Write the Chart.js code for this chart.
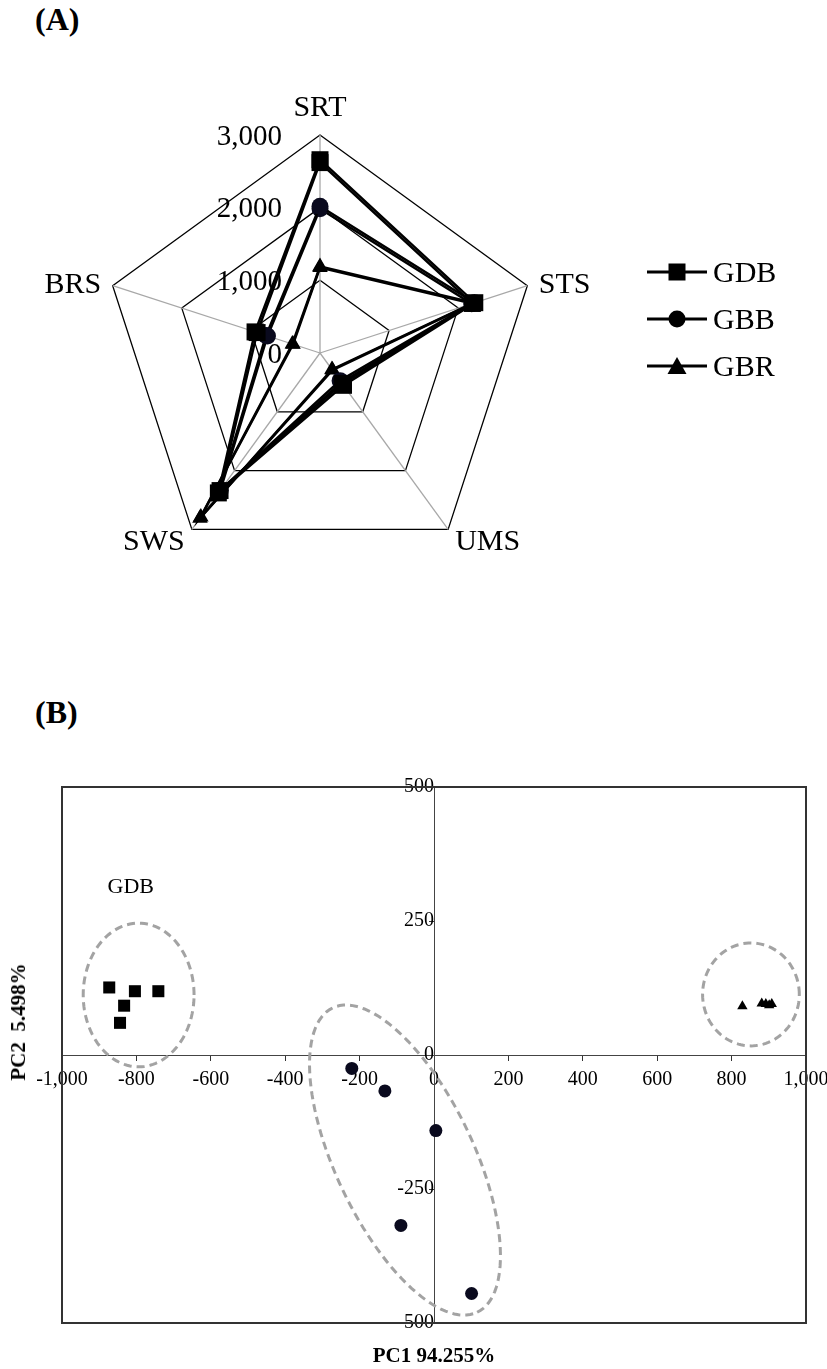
<!DOCTYPE html>
<html>
<head>
<meta charset="utf-8">
<script src="https://cdn.jsdelivr.net/npm/chart.js@4.4.1/dist/chart.umd.min.js"></script>
<style>
    body { margin: 0; background: #fff; font-family: "Liberation Serif", "Times New Roman", serif; }
    #page { position: relative; width: 827px; height: 1369px; overflow: hidden; }
    canvas { position: absolute; left: 0; }
    .panel { position: absolute; left: 35px; font-weight: bold; font-size: 32px; line-height: 36px; }
    #legend { position: absolute; left: 647px; top: 248px; font-size: 30px; }
    .item { display: flex; align-items: center; height: 47px; }
    .item svg { margin-right: 6px; }
    .axt { position: absolute; font-weight: bold; font-size: 21px; white-space: pre; line-height: 24px; }
</style>
</head>
<body>
<div id="page">
    <div class="panel" style="top:1px">(A)</div>
    <canvas id="radar" width="827" height="640" style="top:0"></canvas>
    <div id="legend"></div>
    <div class="panel" style="top:694px">(B)</div>
    <canvas id="pca" width="860" height="609" style="top:760px"></canvas>
    <div class="axt" style="left:434px;top:1343px;transform:translateX(-50%)">PC1 94.255%</div>
    <div class="axt" style="left:18px;top:1022px;transform:translate(-50%,-50%) rotate(-90deg)">PC2  5.498%</div>
</div>
<script>
const serif = '"Liberation Serif", "Times New Roman", serif';

// (A) radar: axes and replicate profiles per group
const axes = ['SRT', 'STS', 'UMS', 'SWS', 'BRS'];
const radarTicks = [0, 1000, 2000, 3000];
const gdbRep1 = [2660, 2240, 550, 2380, 940];
const gdbRep2 = [2620, 2205, 520, 2340, 910];
const gbbRep1 = [2020, 2235, 500, 2370, 780];
const gbbRep2 = [1985, 2195, 470, 2335, 760];
const gbrRep1 = [1190, 2230, 290, 2810, 400];
const gbrRep2 = [1175, 2205, 280, 2790, 390];

// (B) PCA scores
const groupNames = ['GDB', 'GBB', 'GBR'];
const gdbPC1 = [-873, -804, -741, -833, -844];
const gdbPC2 = [126, 119, 119, 92, 60];
const gbbPC1 = [-221, -132, 5, -89, 101];
const gbbPC2 = [-25, -67, -141, -318, -445];
const gbrPC1 = [829, 881, 892, 901, 908];
const gbrPC2 = [91, 96, 95, 93, 95];
const pc1Ticks = [-1000, -800, -600, -400, -200, 0, 200, 400, 600, 800, 1000];
const pc2Ticks = [-500, -250, 0, 250, 500];

// dashed cluster outlines (centre + two semi-axis vectors, in score units)
const clusterRings = [
    { c: [-794, 112], a: [149, 0], b: [0, 134] },
    { c: [-78, -196], a: [194, -284], b: [168, 55] },
    { c: [852, 113], a: [130, 0], b: [0, 96] }
];
const clusterNote = { text: 'GDB', x: -815, y: 313 };

const styles = {
    GDB: { shape: 'rect', rR: 12, sR: 8.5, color: '#000' },
    GBB: { shape: 'circle', rR: 8.5, sR: 6.5, color: '#0a0a1e' },
    GBR: { shape: 'triangle', rR: 9, sR: 6, color: '#000' }
};

const radarReps = [
    ['GDB', gdbRep1], ['GDB', gdbRep2],
    ['GBB', gbbRep1], ['GBB', gbbRep2],
    ['GBR', gbrRep1], ['GBR', gbrRep2]
];

const radarText = {
    id: 'radarText',
    beforeDatasetsDraw(chart) {
        const s = chart.scales.r, ctx = chart.ctx;
        ctx.save();
        ctx.fillStyle = '#000';
        ctx.font = '29px ' + serif;
        ctx.textAlign = 'right';
        ctx.textBaseline = 'middle';
        s.ticks.forEach(t => {
            const d = s.getDistanceFromCenterForValue(t.value);
            ctx.fillText(t.value.toLocaleString('en-US'), s.xCenter - 38, s.yCenter - d + 2);
        });
        ctx.font = '30px ' + serif;
        chart.data.labels.forEach((lab, i) => {
            const top = i === 0;
            const p = s.getPointPosition(i, s.drawingArea + (top ? 27 : 12));
            ctx.textAlign = top ? 'center' : (p.x > s.xCenter ? 'left' : 'right');
            ctx.fillText(lab, p.x, p.y + (top ? 0 : 3));
        });
        ctx.restore();
    }
};

new Chart(document.getElementById('radar'), {
    type: 'radar',
    data: {
        labels: axes,
        datasets: radarReps.map(([g, vals]) => ({
            label: g,
            data: vals,
            borderColor: '#000',
            borderWidth: 2.5,
            backgroundColor: 'transparent',
            fill: false,
            pointStyle: styles[g].shape,
            pointRadius: styles[g].rR,
            pointBackgroundColor: styles[g].color,
            pointBorderColor: styles[g].color,
            pointBorderWidth: 0
        }))
    },
    options: {
        responsive: false,
        animation: false,
        layout: { autoPadding: false, padding: { left: 102, right: 289, top: 135, bottom: 69 } },
        plugins: { legend: { display: false }, tooltip: { enabled: false } },
        scales: {
            r: {
                min: radarTicks[0],
                max: radarTicks[radarTicks.length - 1],
                ticks: { stepSize: radarTicks[1] - radarTicks[0], display: false },
                grid: { color: '#000', lineWidth: 1.3 },
                angleLines: { color: '#a8a8a8', lineWidth: 1.3 },
                pointLabels: { display: false }
            }
        }
    },
    plugins: [radarText]
});

// legend for (A)
const markerSvg = {
    rect: '<rect x="21.5" y="3.5" width="17" height="17" fill="#000"/>',
    circle: '<circle cx="30" cy="12" r="8.5" fill="#000"/>',
    triangle: '<polygon points="30,3 39.5,20 20.5,20" fill="#000"/>'
};
document.getElementById('legend').innerHTML = groupNames.map(g =>
    '<div class="item"><svg width="60" height="24"><line x1="0" y1="12" x2="60" y2="12" stroke="#000" stroke-width="3"/>' +
    markerSvg[styles[g].shape] + '</svg><span>' + g + '</span></div>'
).join('');

// (B) scatter
const pcaDecor = {
    id: 'pcaDecor',
    beforeDatasetsDraw(chart) {
        const { ctx, chartArea: ca } = chart;
        const sx = chart.scales.x, sy = chart.scales.y;
        ctx.save();
        ctx.strokeStyle = '#333';
        ctx.lineWidth = 2;
        ctx.strokeRect(ca.left, ca.top, ca.right - ca.left, ca.bottom - ca.top);

        ctx.strokeStyle = '#a3a3a3';
        ctx.lineWidth = 3;
        ctx.setLineDash([8, 5]);
        clusterRings.forEach(e => {
            ctx.beginPath();
            for (let k = 0; k <= 120; k++) {
                const t = k / 120 * Math.PI * 2;
                const vx = e.c[0] + e.a[0] * Math.cos(t) + e.b[0] * Math.sin(t);
                const vy = e.c[1] + e.a[1] * Math.cos(t) + e.b[1] * Math.sin(t);
                const px = sx.getPixelForValue(vx), py = sy.getPixelForValue(vy);
                if (k === 0) ctx.moveTo(px, py); else ctx.lineTo(px, py);
            }
            ctx.closePath();
            ctx.stroke();
        });
        ctx.setLineDash([]);
        ctx.fillStyle = '#000';
        ctx.font = '22px ' + serif;
        ctx.textAlign = 'center';
        ctx.textBaseline = 'middle';
        ctx.fillText(clusterNote.text, sx.getPixelForValue(clusterNote.x), sy.getPixelForValue(clusterNote.y));
        ctx.restore();
    }
};

const pcaSets = [[gdbPC1, gdbPC2], [gbbPC1, gbbPC2], [gbrPC1, gbrPC2]];

new Chart(document.getElementById('pca'), {
    type: 'scatter',
    data: {
        datasets: groupNames.map((g, gi) => ({
            label: g,
            data: pcaSets[gi][0].map((x, i) => ({ x: x, y: pcaSets[gi][1][i] })),
            pointStyle: styles[g].shape,
            pointRadius: styles[g].sR,
            backgroundColor: styles[g].color,
            borderColor: styles[g].color,
            borderWidth: 0
        }))
    },
    options: {
        responsive: false,
        animation: false,
        layout: { autoPadding: false, padding: { left: 62, right: 54, top: 27, bottom: 46 } },
        plugins: { legend: { display: false }, tooltip: { enabled: false } },
        scales: {
            x: {
                type: 'linear',
                position: { y: 0 },
                min: pc1Ticks[0],
                max: pc1Ticks[pc1Ticks.length - 1],
                afterBuildTicks: s => { s.ticks = pc1Ticks.map(v => ({ value: v })); },
                grid: { drawOnChartArea: false, color: '#333', tickLength: 5 },
                border: { color: '#444', width: 1 },
                ticks: { color: '#000', font: { family: serif, size: 20 }, padding: 8, maxRotation: 0, autoSkip: false }
            },
            y: {
                type: 'linear',
                position: { x: 0 },
                min: pc2Ticks[0],
                max: pc2Ticks[pc2Ticks.length - 1],
                afterBuildTicks: s => { s.ticks = pc2Ticks.map(v => ({ value: v })); },
                grid: { drawOnChartArea: false, color: '#333', tickLength: 5 },
                border: { color: '#444', width: 1 },
                ticks: { color: '#000', font: { family: serif, size: 20 }, padding: 13, autoSkip: false }
            }
        }
    },
    plugins: [pcaDecor]
});
</script>
</body>
</html>
